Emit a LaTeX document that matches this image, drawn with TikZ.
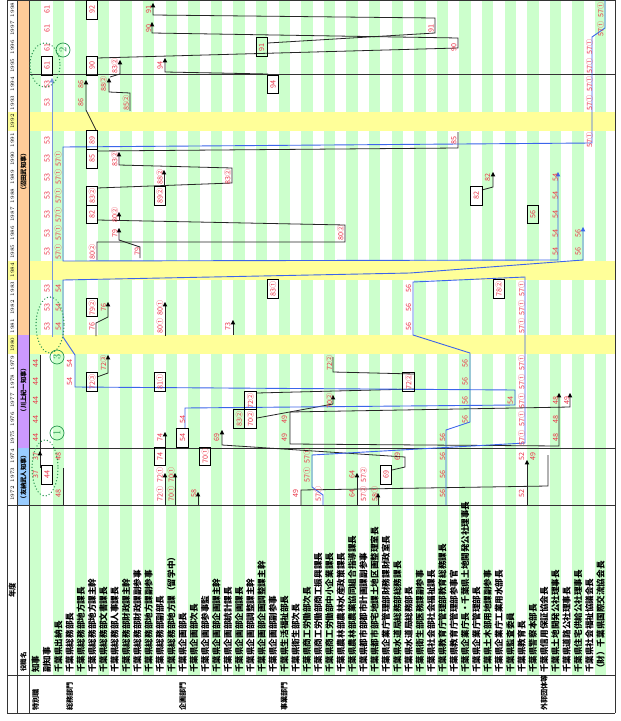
\documentclass[tikz,border=0pt]{standalone}
\usepackage{fontspec}
\newfontfamily\jp{Noto Sans CJK JP}
\definecolor{stripe}{RGB}{204,255,204}
\definecolor{band}{RGB}{255,255,153}
\definecolor{labred}{RGB}{235,50,70}
\definecolor{pathblue}{RGB}{60,100,235}
\definecolor{paleblue}{RGB}{120,150,220}
\definecolor{eraO}{RGB}{255,204,153}
\definecolor{eraP}{RGB}{204,153,255}
\definecolor{eraB}{RGB}{153,204,255}
\definecolor{ringgreen}{RGB}{40,150,80}
\newcommand\colx[1]{35.65+11.3*(#1)}
\newcommand\rowy[1]{121.5+(1992-(#1))*18.6}
\begin{document}
\begin{tikzpicture}[x=1bp,y=-1bp,
  lbl/.style={rotate=90,text=labred,font=\jp\fontsize{7.2}{7}\selectfont,inner sep=0pt},
  ttl/.style={rotate=90,anchor=west,font=\jp\bfseries\fontsize{8.6}{9}\selectfont,inner sep=0pt},
  cat/.style={rotate=90,anchor=west,font=\jp\bfseries\fontsize{7.2}{8}\selectfont,inner sep=0pt},
  yrl/.style={rotate=90,font=\fontsize{5.3}{6}\selectfont,inner sep=0pt},
  era/.style={rotate=90,font=\jp\bfseries\fontsize{6.3}{7}\selectfont,inner sep=0pt},
  kline/.style={draw=black!85,line width=0.8pt},
  bline/.style={draw=pathblue,line width=0.9pt},
  pline/.style={draw=paleblue,line width=0.9pt},
  boxline/.style={draw=black,line width=1pt},
  tableline/.style={draw=black!80,line width=0.8pt},
  dotring/.style={draw=ringgreen,line width=1.3pt,dash pattern=on 0.2pt off 3pt,line cap=round},
  ringmark/.style={circle,draw=ringgreen,text=ringgreen,line width=0.7pt,inner sep=0pt,minimum size=14bp,rotate=90,font=\fontsize{10.5}{10}\selectfont}]
\newcommand\lb[3]{\node[lbl] (n#1x#2) at ({\colx{#1}},{\rowy{#2}}) {#3};}
\newcommand\bxl[3]{\draw[boxline] ({\colx{#1}-5.65},{\rowy{#2}-9.3}) rectangle ({\colx{#1}+5.65},{\rowy{#2}+9.3}); \lb{#1}{#2}{#3}}
\newcommand\ar[2]{\fill[black] (#1,#2) -- ++(-2.3,4.4) -- ++(4.6,0) -- cycle;}
\newcommand\blueArr[2]{\fill[pathblue] (#1,#2) -- ++(-2.3,4.4) -- ++(4.6,0) -- cycle;}
\fill[white] (0,0) rectangle (621,721);
\useasboundingbox (0,0) rectangle (621,721);
% stripes
\foreach \i in {0,2,...,50} {\fill[stripe] ({30+11.3*\i},0) rectangle ({30+11.3*\i+11.3},675);}
% yellow bands
\foreach \yr in {1992,1984,1980} {\fill[band] (7,{\rowy{\yr}-9.3}) rectangle (615,{\rowy{\yr}+9.3});}
% era column
\fill[eraO] (17.5,0) rectangle (29.5,335.4);
\fill[eraP] (17.5,335.4) rectangle (29.5,448);
\fill[eraB] (17.5,448) rectangle (29.5,505);
\node[era] (eraA) at (23.5,172) {（沼田武知事）};
\node[era] (eraC) at (23.5,390) {（川上紀一知事）};
\node[era] (eraD) at (23.5,477) {（友納武人知事）};
% years
\foreach \yr in {1972,...,1998} {\node[yrl] (y\yr) at (12.3,{\rowy{\yr}}) {\yr};}
% frame
\draw[tableline] (7,0.5) -- (615,0.5);
\draw[tableline] (7,0) -- (7,713);
\draw[tableline] (17.5,0) -- (17.5,713);
\draw[tableline] (29.5,0) -- (29.5,713);
\draw[tableline] (615,0) -- (615,713);
\draw[tableline] (7,505) -- (615,505);
\draw[tableline] (7,675) -- (615,675);
\draw[tableline] (7,713) -- (615,713);
\draw[tableline] (29.5,74.5) -- (615,74.5);
\draw[tableline] (29.5,448.5) -- (615,448.5);
% header
\node[rotate=90,font=\jp\bfseries\fontsize{7.5}{8}\selectfont] (hdY) at (12.3,590) {年度};
\node[rotate=90,anchor=west,font=\jp\bfseries\fontsize{6.5}{7}\selectfont,inner sep=0pt] (hdP) at (23.5,672) {役職名};
% column titles
\foreach \t [count=\k from 0] in {知事,副知事,千葉県出納長,千葉県総務部長,千葉県総務部地方課長,千葉県総務部地方課主幹,千葉県総務部文書課長,千葉県総務部人事課長,千葉県総務部財政課主幹,千葉県総務部財政課副参事,千葉県総務部地方課副参事,千葉県総務部副部長,千葉県総務部地方課（留学中）,千葉県企画部長,千葉県企画部次長,千葉県企画部参事監,千葉県企画部企画課主幹,千葉県企画部統計課長,千葉県企画部企画課長,千葉県企画部調整課主幹,千葉県企画部企画調整課主幹,千葉県企画部副参事,千葉県生活福祉部長,千葉県衛生部次長,千葉県商工労働部次長,千葉県商工労働部商工振興課長,千葉県商工労働部中小企業課長,千葉県農林部農林水産政策課長,千葉県農林部農業協同組合指導課長,千葉県都市部都市計画課副参事,千葉県都市部宅地課土地区画整理室長,千葉県企業庁管理部財務課財政室長,千葉県水道局総務部総務課長,千葉県水道局総務部長,千葉県衛生部医務課副参事,千葉県社会部社会福祉課長,千葉県教育庁管理部教育総務課長,千葉県教育庁管理部参事官,千葉県企業庁長・千葉県土地開発公社理事長,千葉県企業庁管理部長,千葉県土木部用地課副参事,千葉県企業庁工業用水部長,千葉県監査委員,千葉県教育長,千葉県警察本部長,千葉県信用保証協会長,千葉県土地開発公社理事長,千葉県道路公社理事長,千葉県住宅供給公社理事長,千葉県社会福祉協議会長,（財）千葉県国際交流協会長}
  {\node[ttl] (t\k) at ({\colx{\k}},673) {\t};}
% categories
\node[cat] (c1) at ({\colx{0}},711) {特別職};
\node[cat] (c2) at ({\colx{3}},711) {総務部門};
\node[cat] (c3) at ({\colx{13}},711) {企画部門};
\node[cat] (c4) at ({\colx{22}},711) {事業部門};
\node[cat] (c5) at ({\colx{45}},711) {外郭団体等};
% black career lines
\draw[kline] (153,5) -- (153,15) -- (435,18) -- (435,33) -- (268,43);
\draw[kline] (152,24) -- (152,33) -- (458,38) -- (458,48) -- (97,58);
\draw[kline] (165,60) -- (165,72) -- (268,74);
\draw[kline] (120,62) -- (120,74) -- (110,77);
\draw[kline] (109,80) -- (109,92) -- (130,93) -- (130,111);
\draw[kline] (86,82) -- (86,110) -- (96,130);
\draw[kline] (97,151) -- (458,148) -- (458,132);
\draw[kline] (119,154) -- (119,165) -- (232,168) -- (232,183) -- (97,188);
\draw[kline] (164,172) -- (164,187);
\draw[kline] (493,174) -- (493,187) -- (482,190);
\draw[kline] (119,214) -- (119,221);
\draw[kline] (97,220) -- (345,225) -- (345,242) -- (97,242) -- (97,260);
\draw[kline] (119,230) -- (119,240) -- (140,247) -- (140,258);
\draw[kline] (108,304) -- (108,317) -- (96,323) -- (96,336);
\draw[kline] (165,304) -- (165,336);
\draw[kline] (233,322) -- (233,335);
\draw[kline] (108,357) -- (108,373) -- (97,377);
\draw[kline] (333,357) -- (333,372) -- (414,374);
\draw[kline] (257,393) -- (414,389);
\draw[kline] (333,397) -- (333,404) -- (257,418);
\draw[kline] (570,395) -- (570,407) -- (290,412) -- (290,444) -- (559,446) -- (559,395);
\draw[kline] (222,432) -- (222,445) -- (405,457) -- (405,467) -- (392,470);
\draw[kline] (40,355) -- (40,468);
\draw[kline] (165,434) -- (165,447);
\draw[kline] (63,468) -- (63,505);
\draw[kline] (165,475) -- (165,505);
\draw[kline] (175,475) -- (175,505);
\draw[kline] (198,494) -- (198,505);
\draw[kline] (301,505) -- (301,490) -- (548,486) -- (548,455);
\draw[kline] (527,462) -- (527,505);
\draw[kline] (357,475) -- (357,505);
\draw[kline] (378,495) -- (378,505);
\foreach \p/\q in {153/3,152/22,165/58,120/60,109/78,86/80,119/152,164/170,493/172,119/212,119/228,108/302,165/302,233/320,108/355,333/395,570/393,559/393,222/430,40/451,165/432,165/473,175/473,198/492,527/460,357/473,378/493} {\ar{\p}{\q}}
% blue career lines
\draw[pline] (52,80) -- (52,337);
\fill[paleblue] (52,78) -- ++(-2.3,4.4) -- ++(4.6,0) -- cycle;
\draw[bline] (605,0) -- (605,28) -- (592,37) -- (592,143) -- (63,147) -- (63,261) -- (558,260) -- (558,174);
\draw[bline] (583,229) -- (583,260) -- (410,273) -- (63,280) -- (63,337) -- (75,355) -- (75,387) -- (515,390) -- (515,405) -- (185,408) -- (185,428);
\draw[bline] (446,505) -- (446,430) -- (470,422) -- (470,353) -- (413,335) -- (413,282) -- (525,277) -- (525,443) -- (312,455) -- (312,487) -- (323,495) -- (323,505);
\blueArr{558}{172}
\blueArr{583}{227}
% boxes
\bxl{5}{1998}{92}\bxl{5}{1995}{90}\bxl{5}{1991}{89}\bxl{5}{1990}{85}\bxl{5}{1988}{83②}\bxl{5}{1987}{82}\bxl{5}{1982}{79②}\bxl{5}{1978}{72③}
\bxl{1}{1995}{61}\bxl{1}{1973}{44}
\bxl{11}{1988}{89②}\bxl{11}{1978}{81①}\bxl{11}{1974}{74}
\bxl{13}{1975}{54}\bxl{15}{1974}{70①}\bxl{18}{1976}{83②}\bxl{19}{1977}{72②}\bxl{19}{1976}{70②}
\bxl{20}{1996}{91}\bxl{21}{1994}{94}\bxl{21}{1983}{83①}\bxl{31}{1973}{69}\bxl{33}{1978}{72②}
\bxl{39}{1988}{82}\bxl{41}{1983}{78②}\bxl{44}{1987}{56}
% plain labels
\foreach \y in {1998,1997,1996} {\lb{1}{\y}{61}}
\foreach \y in {1994,1993,1991,1990,1989,1988,1987,1986,1985,1983,1982,1981} {\lb{1}{\y}{53}}
\foreach \y in {1979,1978,1977,1976,1975} {\lb{0}{\y}{44}}
\lb{0}{1974}{37}\lb{0}{1973}{37}
\foreach \y in {1990,1989,1988,1987,1986,1985} {\lb{2}{\y}{57①}}
\foreach \y in {1983,1982,1981} {\lb{2}{\y}{54}}
\lb{2}{1974}{48}\lb{2}{1972}{48}
\lb{3}{1979}{54}\lb{3}{1978}{54}
\lb{4}{1994}{86}\lb{4}{1993}{86}
\lb{5}{1985}{80②}\lb{5}{1981}{76}
\lb{6}{1994}{88②}\lb{6}{1982}{76}\lb{6}{1979}{72③}
\lb{7}{1995}{83②}\lb{7}{1990}{83②}\lb{7}{1987}{80②}\lb{7}{1986}{79}
\lb{8}{1993}{85②}\lb{9}{1985}{79}
\lb{10}{1998}{91}\lb{10}{1997}{90}
\lb{11}{1995}{94}\lb{11}{1989}{88②}\lb{11}{1982}{80①}\lb{11}{1981}{80①}\lb{11}{1975}{74}\lb{11}{1973}{72①}\lb{11}{1972}{72①}
\lb{12}{1973}{70①}\lb{12}{1972}{70①}
\lb{13}{1976}{54}\lb{14}{1972}{58}\lb{16}{1975}{69}
\lb{17}{1989}{83②}\lb{17}{1981}{73}
\lb{22}{1976}{49}\lb{22}{1975}{49}\lb{23}{1972}{49}
\lb{24}{1974}{57①}\lb{24}{1973}{57①}\lb{25}{1972}{57①}
\lb{26}{1979}{72②}\lb{26}{1977}{70②}\lb{27}{1986}{80②}
\lb{28}{1973}{64}\lb{28}{1972}{64}\lb{29}{1973}{57②}\lb{29}{1972}{57②}\lb{30}{1972}{58①}
\lb{32}{1974}{69}
\foreach \y in {1983,1982,1981} {\lb{33}{\y}{56}}
\lb{35}{1997}{91}
\foreach \y in {1975,1974,1973,1972} {\lb{36}{\y}{56}}
\lb{37}{1996}{90}\lb{37}{1991}{85}
\foreach \y in {1979,1978,1977,1976} {\lb{38}{\y}{56}}
\lb{40}{1989}{82}\lb{42}{1977}{54}
\foreach \y in {1983,1982,1981,1979,1978,1977,1976,1975} {\lb{43}{\y}{57①}}
\lb{43}{1974}{52}\lb{43}{1972}{52}\lb{44}{1974}{49}
\foreach \y in {1989,1988,1987,1986,1985} {\lb{46}{\y}{54}}
\foreach \y in {1977,1976,1975} {\lb{46}{\y}{48}}
\lb{47}{1977}{49}\lb{48}{1986}{56}\lb{48}{1985}{56}
\foreach \y in {1996,1995,1994,1993,1991} {\lb{49}{\y}{57①}}
\lb{50}{1998}{57①}\lb{50}{1997}{57①}
% highlight rings
\draw[dotring] (45,65) circle[x radius=15,y radius=22];
\draw[dotring] (50,325) circle[x radius=14,y radius=28];
\draw[dotring] (45,468) circle[x radius=13,y radius=28];
\node[ringmark] (m2) at (63,50) {2};
\node[ringmark] (m3) at (57,357) {3};
\node[ringmark] (m1) at (57,433) {1};
\end{tikzpicture}
\end{document}
